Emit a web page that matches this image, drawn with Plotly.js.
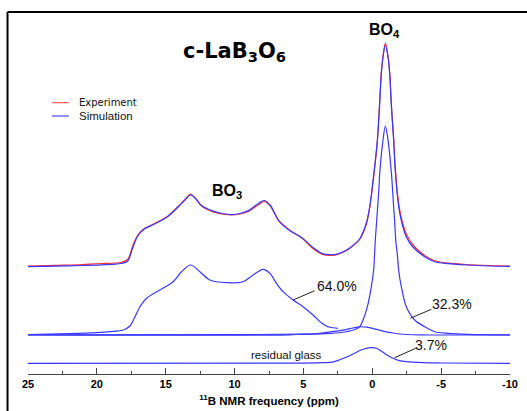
<!DOCTYPE html>
<html>
<head>
<meta charset="utf-8">
<script src="https://cdn.plot.ly/plotly-3.0.1.min.js"></script>
<style>html,body{margin:0;padding:0;background:#fff;}#chart{width:527px;height:411px;}</style>
</head>
<body>
<div id="chart"></div>
<script>
// ---- Data (11B chemical shift in ppm, intensities in arbitrary units) ----
var topPpm = [25, 23, 21, 19.7, 18.25, 17.76, 17.4, 17.03, 16.55, 15.8, 14.84, 14.1, 13.6, 13.2, 12.8, 12.4, 11.66, 10.9, 10.2, 9.6, 9.0, 8.25, 7.84, 7.4, 6.79, 6.06, 5.08, 4.35, 3.62, 3.1, 2.65, 2.0, 1.65, 0.92, 0.43, 0.19, -0.12, -0.37, -0.52, -0.66, -0.78, -0.95, -1.14, -1.26, -1.39, -1.55, -1.68, -1.92, -2.15, -2.47, -2.95, -3.8, -4.53, -5.5, -6.8, -8.5, -10];
var simulation = [0.3, 0.8, 1.5, 2.2, 3.5, 6, 19, 31, 38, 43, 50.5, 60, 67, 72, 68, 61.5, 56.4, 53.5, 52.4, 53.5, 56.4, 63.8, 66.5, 61.5, 46, 37, 29, 20, 13.4, 12.3, 12.7, 16, 19, 28, 44, 60, 94, 127, 160, 194, 210, 222, 210, 194, 160, 127, 94, 60, 44, 30, 20, 10.3, 5.3, 3.3, 2, 1, 0.6];
var experiment = [0.8, 1.6, 2.5, 3.5, 4.5, 7.5, 21, 32, 38.5, 43.5, 51, 60.5, 67.5, 73, 68, 61, 55.5, 53, 52, 53, 55.5, 62.5, 65.5, 61, 46.5, 37.5, 28.5, 19, 12.6, 11.5, 12, 15.5, 18.5, 27.5, 43, 59, 93, 126, 160, 195, 211, 224, 211, 195, 162, 129, 97, 63, 47, 33, 22, 11.5, 6.2, 3.8, 2.5, 1.5, 1];

var bo3Ppm = [25, 22, 20, 19.04, 18.08, 17.6, 17.23, 16.87, 16.39, 15.42, 14.46, 13.85, 13.19, 12.52, 11.8, 10.58, 9.38, 8.65, 7.93, 7.44, 6.96, 6.48, 5.75, 5.03, 4.3, 3.58, 3.09, 2.5];
var bo3Comp = [0.3, 1.2, 2.2, 3.1, 4.8, 8.8, 18.1, 28.1, 36.5, 44.8, 53.1, 63.1, 69.8, 63.1, 54.8, 52.1, 53.1, 59.8, 65.5, 61.5, 51.5, 43.1, 34.8, 28.1, 19.8, 10.8, 7.5, 6.5];

var bo4Ppm = [25, 10, 5, 3, 2, 1.3, 0.91, 0.67, 0.36, 0.07, -0.1, -0.17, -0.22, -0.35, -0.49, -0.54, -0.78, -0.95, -1.14, -1.39, -1.46, -1.55, -1.62, -1.7, -1.82, -1.92, -2.11, -2.47, -3.08, -3.8, -4.53, -5.5, -7, -10];
var bo4Comp = [0, 0.2, 0.6, 1.5, 2.8, 5, 8.1, 14.8, 28, 48, 65, 81.5, 95, 120, 148, 161.5, 195, 208.8, 195, 161.5, 148, 128, 114.8, 94.8, 80, 64, 48, 28, 14.8, 8.1, 3.1, 1.5, 0.5, 0];

var bumpPpm = [25, 6, 5.26, 4, 3.33, 2.0, 1.4, 0.91, 0.4, -0.03, -0.5, -1.02, -1.5, -1.99, -3.4, -10];
var bumpComp = [0, 0, 0.5, 1.2, 2.5, 5, 6.8, 8, 7.6, 6.5, 4.8, 3, 1.8, 0.8, 0, 0];

var glassPpm = [25, 5, 3.5, 2.9, 2.36, 1.9, 1.4, 0.9, 0.43, 0.1, -0.3, -0.78, -1.1, -1.5, -1.9, -2.5, -3.7, -5, -10];
var glassComp = [0, 0.2, 0.6, 1.2, 3.5, 6, 9.3, 12.8, 15, 15.6, 15, 11, 8, 5, 3, 1.6, 0.6, 0.3, 0];

var tickVals = [25, 20, 15, 10, 5, 0, -5, -10];
var tickText = ['25', '20', '15', '10', '5', '0', '-5', '-10'];
var labelTexts = ['64.0%', '32.3%', '3.7%', 'residual glass'];

// ---- Stacking offsets (layout) ----
var OFF_TOP = 107, OFF_MID = 39.2, OFF_BOT = 10.7;
function shift(arr, off) { return arr.map(function (v) { return v + off; }); }

var RED = '#ff2f2f', BLUE = '#3838ff';
var lineStyle = function (c) { return {color: c, width: 1.2, shape: 'spline', smoothing: 0.9}; };

var traces = [
  {x: topPpm, y: shift(experiment, OFF_TOP), mode: 'lines', line: lineStyle(RED), name: 'Experiment', hoverinfo: 'skip'},
  {x: topPpm, y: shift(simulation, OFF_TOP), mode: 'lines', line: lineStyle(BLUE), name: 'Simulation', hoverinfo: 'skip'},
  {x: bo3Ppm, y: shift(bo3Comp, OFF_MID), mode: 'lines', line: lineStyle(BLUE), name: 'BO3', hoverinfo: 'skip'},
  {x: bumpPpm, y: shift(bumpComp, OFF_MID), mode: 'lines', line: lineStyle(BLUE), name: 'bump', hoverinfo: 'skip'},
  {x: bo4Ppm, y: shift(bo4Comp, OFF_MID), mode: 'lines', line: lineStyle(BLUE), name: 'BO4', hoverinfo: 'skip'},
  {x: glassPpm, y: shift(glassComp, OFF_BOT), mode: 'lines', line: lineStyle(BLUE), name: 'glass', hoverinfo: 'skip'}
];

var FONT = 'Liberation Sans, Arial, sans-serif';
var lbl = {family: FONT, size: 14, color: '#111'};

var layout = {
  width: 527, height: 411,
  margin: {l: 28, r: 17, t: 0, b: 37, pad: 0},
  paper_bgcolor: '#fff', plot_bgcolor: 'rgba(0,0,0,0)',
  showlegend: false,
  xaxis: {
    range: [25, -10], autorange: false, showgrid: false, zeroline: false,
    showline: true, linecolor: '#444', linewidth: 1,
    ticks: 'inside', ticklen: 6, tickwidth: 1, tickcolor: '#444',
    tickmode: 'array', tickvals: tickVals, ticktext: tickText,
    tickfont: {family: FONT, size: 11, color: '#000', weight: 'bold'},
    minor: {tick0: 0, dtick: 2.5, ticks: 'inside', ticklen: 3, tickwidth: 1, tickcolor: '#444'},
    title: {text: '<sup>11</sup>B NMR frequency (ppm)', font: {family: FONT, size: 11.5, color: '#000', weight: 'bold'}, standoff: 7}
  },
  yaxis: {range: [0, 374], autorange: false, visible: false, fixedrange: true},
  shapes: [
    {type: 'line', xref: 'paper', yref: 'paper', x0: -0.0425, x1: 1.06, y0: 0.968, y1: 0.968, line: {color: '#000', width: 2}},
    {type: 'line', xref: 'paper', yref: 'paper', x0: -0.0425, x1: -0.0425, y0: 0.968, y1: -0.15, line: {color: '#000', width: 2}},
    // legend samples
    {type: 'line', xref: 'x', yref: 'y', x0: 23.26, x1: 22.03, y0: 271.3, y1: 271.3, line: {color: '#ff5a5a', width: 1.2}},
    {type: 'line', xref: 'x', yref: 'y', x0: 23.26, x1: 22.03, y0: 258, y1: 258, line: {color: '#4a4aff', width: 1.2}},
    // leader lines
    {type: 'line', xref: 'x', yref: 'y', x0: 5.75, y0: 74, x1: 4.18, y1: 83.3, line: {color: '#222', width: 1}},
    {type: 'line', xref: 'x', yref: 'y', x0: -2.76, y0: 55.7, x1: -4.29, y1: 64.7, line: {color: '#222', width: 1}},
    {type: 'line', xref: 'x', yref: 'y', x0: -1.62, y0: 16.3, x1: -3.15, y1: 25.7, line: {color: '#222', width: 1}}
  ],
  annotations: [
    {xref: 'x', yref: 'y', x: 10.0, y: 322, text: 'c-LaB<sub>3</sub>O<sub>6</sub>', showarrow: false, xanchor: 'center', yanchor: 'middle',
     font: {family: 'DejaVu Sans, sans-serif', size: 21, color: '#000', weight: 'bold'}},
    {xref: 'x', yref: 'y', x: -0.9, y: 344, text: 'BO<sub>4</sub>', showarrow: false, xanchor: 'center', yanchor: 'middle',
     font: {family: FONT, size: 16, color: '#000', weight: 'bold'}},
    {xref: 'x', yref: 'y', x: 10.58, y: 183, text: 'BO<sub>3</sub>', showarrow: false, xanchor: 'center', yanchor: 'middle',
     font: {family: FONT, size: 16, color: '#000', weight: 'bold'}},
    {xref: 'x', yref: 'y', x: 21.42, y: 271.3, text: 'Experiment', showarrow: false, xanchor: 'left', yanchor: 'middle',
     font: {family: 'DejaVu Sans, sans-serif', size: 10, color: '#111'}},
    {xref: 'x', yref: 'y', x: 21.42, y: 258, text: 'Simulation', showarrow: false, xanchor: 'left', yanchor: 'middle',
     font: {family: FONT, size: 11.5, color: '#111'}},
    {xref: 'x', yref: 'y', x: 2.58, y: 88.3, text: labelTexts[0], showarrow: false, xanchor: 'center', yanchor: 'middle', font: lbl},
    {xref: 'x', yref: 'y', x: -5.8, y: 69.8, text: labelTexts[1], showarrow: false, xanchor: 'center', yanchor: 'middle', font: lbl},
    {xref: 'x', yref: 'y', x: -4.29, y: 29, text: labelTexts[2], showarrow: false, xanchor: 'center', yanchor: 'middle', font: lbl},
    {xref: 'x', yref: 'y', x: 6.25, y: 19.4, text: labelTexts[3], showarrow: false, xanchor: 'center', yanchor: 'middle',
     font: {family: FONT, size: 11.5, color: '#111'}}
  ]
};

Plotly.newPlot('chart', traces, layout, {staticPlot: true, displayModeBar: false});
</script>
</body>
</html>
